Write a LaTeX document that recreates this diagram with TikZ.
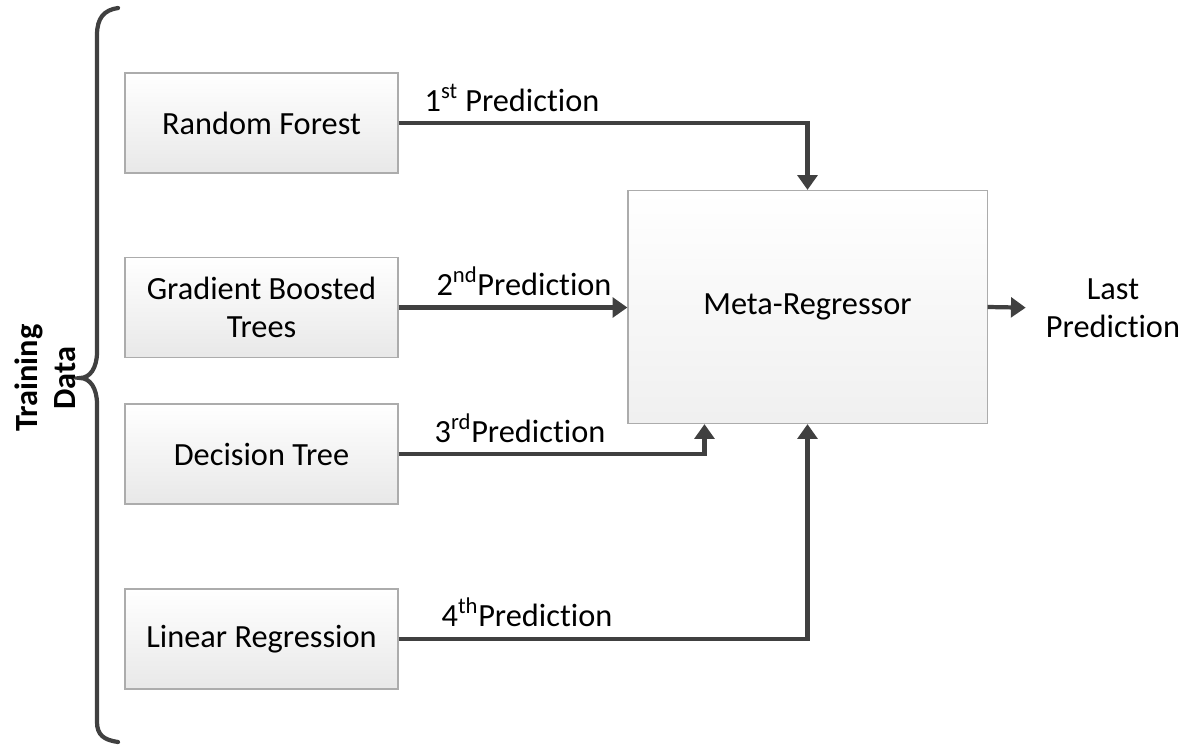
\documentclass[tikz,border=0pt]{standalone}
\usepackage{fontspec}
\setmainfont{Carlito}[Ligatures=NoCommon]
\usepackage{tikz}
\usetikzlibrary{arrows.meta,positioning}

\begin{document}
\begin{tikzpicture}[x=0.025cm,y=-0.025cm,
    model/.style={draw=gray!65, line width=0.8pt, top color=white, bottom color=gray!18,
        minimum width=6.825cm, minimum height=2.5cm, align=center,
        font=\fontsize{23}{27}\selectfont},
    predlbl/.style={font=\fontsize{23}{27}\selectfont},
    flow/.style={line width=3pt, draw=black!75, -{Triangle[length=10.5pt,width=14pt]}}]
    \useasboundingbox (0,0) rectangle (1188,744);

    % brace over the training data
    \draw[line width=3pt, black!75, line cap=round]
        (118,8) .. controls (104,10) and (97,18) .. (97,35) -- (97,352)
        .. controls (97,368) and (90,378) .. (80,378)
        .. controls (90,378) and (97,388) .. (97,404) -- (97,722)
        .. controls (97,735) and (104,740) .. (118,742);
    \node[rotate=90, align=center, font=\fontsize{23}{27}\selectfont\bfseries] (train) at (45,378) {Training\\Data};

    % base models
    \node[model] (rf) at (261.5,123) {Random Forest};
    \node[model] (gb) at (261.5,307.5) {Gradient Boosted\\Trees};
    \node[model] (dt) at (261.5,454) {Decision Tree};
    \node[model] (lr) at (261.5,639) {Linear Regression};

    % stacking model
    \node[model, minimum width=8.975cm, minimum height=5.825cm, top color=white, bottom color=gray!12] (meta) at (807.5,307) {Meta-Regressor};
    \node[predlbl, align=center, inner sep=0pt] (last) at (1113,308) {Last\\Prediction};

    % prediction labels
    \node[predlbl] (p1) at (512,98) {1\textsuperscript{st} Prediction};
    \node[predlbl] (p2) at (524,281) {2\textsuperscript{nd}Prediction};
    \node[predlbl] (p3) at (520,428) {3\textsuperscript{rd}Prediction};
    \node[predlbl] (p4) at (527,612) {4\textsuperscript{th}Prediction};

    % Arrows
    \draw[flow] (rf.east) -| (meta.north);
    \draw[flow] (gb.east) -- (gb.east -| meta.west);
    \draw[flow] (dt.east) -| ([xshift=-2.575cm]meta.south);
    \draw[flow] (lr.east) -| (meta.south);
    \draw[flow, shorten >=0.5cm] (meta.east) -- (last.west);
\end{tikzpicture}
\end{document}
